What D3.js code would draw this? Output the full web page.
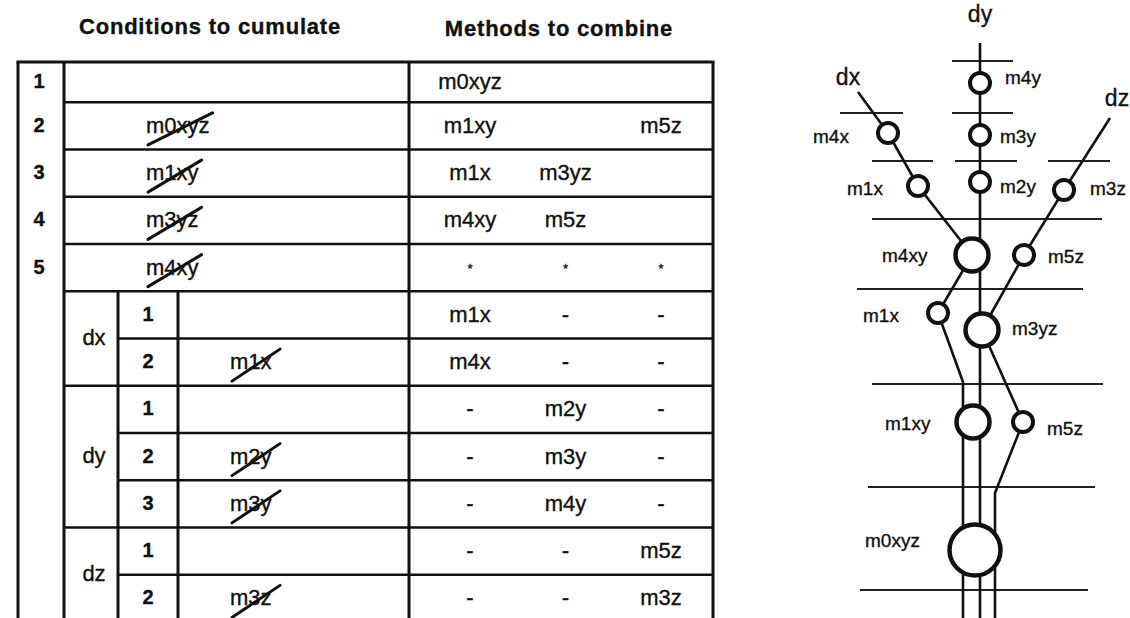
<!DOCTYPE html>
<html><head><meta charset="utf-8">
<script src="https://cdn.jsdelivr.net/npm/d3@7"></script>
<style>
html,body{margin:0;padding:0;background:#fff;}
svg{display:block;}
text{font-family:"Liberation Sans", Arial, Helvetica, sans-serif; fill:#111; stroke:#111; stroke-width:0.35px;}
</style>
</head><body>
<svg id="c" width="1130" height="618"></svg>
<script>
// ---------- table data ----------
const headers = ["Conditions to cumulate", "Methods to combine"];
const mainSteps = ["1", "2", "3", "4", "5"];
const mainCumulated = ["", "m0xyz", "m1xy", "m3yz", "m4xy"];
const mainMethods = [
  ["m0xyz", "", ""],
  ["m1xy", "", "m5z"],
  ["m1x", "m3yz", ""],
  ["m4xy", "m5z", ""],
  ["*", "*", "*"]
];
const groups = ["dx", "dy", "dz"];
const groupSteps = [["1", "2"], ["1", "2", "3"], ["1", "2"]];
const groupCumulated = [["", "m1x"], ["", "m2y", "m3y"], ["", "m3z"]];
const groupMethods = [
  [["m1x", "-", "-"], ["m4x", "-", "-"]],
  [["-", "m2y", "-"], ["-", "m3y", "-"], ["-", "m4y", "-"]],
  [["-", "-", "m5z"], ["-", "-", "m3z"]]
];

// ---------- diagram data ----------
const axisNames = ["dx", "dy", "dz"];
const nodeNames = ["m4y", "m3y", "m2y", "m4x", "m1x", "m3z", "m4xy", "m5z", "m1x", "m3yz", "m1xy", "m5z", "m0xyz"];
const nodeSize = [1, 1, 1, 1, 1, 1, 2, 1, 1, 2, 2, 1, 3];   // 1 = single, 2 = pair, 3 = triple

// ---------- layout (positions, not data) ----------
const svg = d3.select("#c");
const W = 1130, H = 618;
const FONT = 22;

const colX = {left: 18, step: 64, grp: 118, sub: 178, meth: 409, right: 713};
const allRows = [];
mainSteps.forEach((s, i) => allRows.push({kind: "main", i}));
groups.forEach((g, gi) => groupSteps[gi].forEach((s, si) => allRows.push({kind: "sub", gi, si})));
const y = d3.scaleBand().domain(d3.range(allRows.length)).range([55, 622]);
const TOP = 62;
const rowTop = i => i === 0 ? TOP : y(i);
const rowMid = i => (rowTop(i) + y(i) + y.bandwidth()) / 2;
const mx = d3.scalePoint().domain([0, 1, 2]).range([470, 661]);

// headers
svg.append("text").attr("x", 210).attr("y", 34).attr("text-anchor", "middle")
  .attr("font-size", 22).attr("font-weight", "bold").attr("letter-spacing", 0.8).text(headers[0]);
svg.append("text").attr("x", 559).attr("y", 36).attr("text-anchor", "middle")
  .attr("font-size", 22).attr("font-weight", "bold").attr("letter-spacing", 0.8).text(headers[1]);

const g = svg.append("g");
const line = (x1, y1, x2, y2, w) => g.append("line").attr("x1", x1).attr("y1", y1).attr("x2", x2).attr("y2", y2)
  .attr("stroke", "#111").attr("stroke-width", w);

// horizontal row lines
const groupStarts = [];
let acc = mainSteps.length;
groupSteps.forEach(s => { groupStarts.push(acc); acc += s.length; });
for (let i = 1; i < allRows.length; i++) {
  const isMajor = i <= mainSteps.length || groupStarts.includes(i);
  line(isMajor ? colX.step : colX.grp, y(i), colX.right, y(i), 2.6);
}
// top border
line(colX.left - 1.5, TOP, colX.right + 1.5, TOP, 3);
// verticals
[colX.left, colX.step, colX.meth, colX.right].forEach(x => line(x, TOP, x, H + 5, 3));
[colX.grp, colX.sub].forEach(x => line(x, y(mainSteps.length), x, H + 5, 3));

// strike-through text helper
function crossed(x, base, txt) {
  const t = g.append("text").attr("x", x).attr("y", base).attr("font-size", FONT).text(txt);
  const w = t.node().getComputedTextLength();
  line(x + 2, base + 12, x + Math.max(50, w + 3), base - 20, 3).attr("stroke-linecap", "round");
}

// rows
allRows.forEach((r, i) => {
  const base = rowMid(i) + 7;
  if (r.kind === "main") {
    g.append("text").attr("x", 39).attr("y", base - 1).attr("text-anchor", "middle")
      .attr("font-size", 20).attr("font-weight", "bold").text(mainSteps[r.i]);
    if (mainCumulated[r.i]) crossed(146, base, mainCumulated[r.i]);
    mainMethods[r.i].forEach((m, k) => {
      if (!m) return;
      if (m === "*") {
        g.append("text").attr("x", mx(k)).attr("y", base - 2).attr("text-anchor", "middle")
          .attr("font-size", 13).text(m);
      } else {
        g.append("text").attr("x", mx(k)).attr("y", base).attr("text-anchor", "middle")
          .attr("font-size", FONT).text(m);
      }
    });
  } else {
    g.append("text").attr("x", 148).attr("y", base - 1).attr("text-anchor", "middle")
      .attr("font-size", 20).attr("font-weight", "bold").text(groupSteps[r.gi][r.si]);
    const c = groupCumulated[r.gi][r.si];
    if (c) crossed(230, base, c);
    groupMethods[r.gi][r.si].forEach((m, k) => {
      g.append("text").attr("x", mx(k)).attr("y", base).attr("text-anchor", "middle")
        .attr("font-size", FONT).text(m);
    });
  }
});
// group labels
groups.forEach((name, gi) => {
  const s = groupStarts[gi], n = groupSteps[gi].length;
  const top = y(s), bot = y(s + n - 1) + y.bandwidth();
  g.append("text").attr("x", 94).attr("y", (top + bot) / 2 + 6).attr("text-anchor", "middle")
    .attr("font-size", FONT).text(name);
});

// ---------- right diagram ----------
const d = svg.append("g");
const dline = (pts, w) => d.append("path").attr("d", d3.line()(pts)).attr("fill", "none")
  .attr("stroke", "#111").attr("stroke-width", w).attr("stroke-linejoin", "round");

// node placement (px)
const nodePos = [
  [980, 83], [980, 135], [980, 182], [888, 133], [918, 186], [1064, 190],
  [972, 255], [1024, 255], [938, 313], [982, 330], [973, 422], [1023, 422], [975, 550]
];
const rScale = d3.scaleOrdinal().domain([1, 2, 3]).range([10, 16.5, 25.5]);
const labelPos = [
  [1005, 84], [1000, 143], [1000, 193], [813, 143], [847, 195], [1090, 195],
  [882, 262], [1048, 263], [863, 322], [1012, 335], [885, 430], [1047, 435], [865, 547]
];

// separator lines
const seps = [
  [61, [[952, 1013]]],
  [113, [[840, 903], [952, 1013]]],
  [161, [[872, 933], [955, 1017], [1048, 1110]]],
  [219, [[872, 1102]]],
  [289, [[857, 1083]]],
  [384, [[872, 1103]]],
  [487, [[868, 1095]]],
  [590, [[860, 1088]]]
];
seps.forEach(([yy, segs]) => segs.forEach(([a, b]) => dline([[a, yy], [b, yy]], 2.2).attr("stroke", "#222")));

// edges
const P = nodePos;
dline([[980, 43], [980, H + 5]], 2.6);                              // dy
dline([[858, 92], P[3], P[4], P[6]], 2.6);                          // dx
dline([[1110, 118], P[5], P[7]], 2.6);                              // dz
dline([P[6], P[8], [963, 382], [963, H + 5]], 2.6);                 // m4xy -> m1x -> m1xy -> m0xyz
dline([P[7], P[9]], 2.6);                                           // m5z -> m3yz
dline([P[9], P[11], [995, 493], [995, H + 5]], 2.6);                // m3yz -> m5z -> m0xyz

// nodes
nodeNames.forEach((n, i) => {
  d.append("circle").attr("cx", P[i][0]).attr("cy", P[i][1]).attr("r", rScale(nodeSize[i]))
    .attr("fill", "#fff").attr("stroke", "#111").attr("stroke-width", nodeSize[i] === 1 ? 4 : 4.5);
  d.append("text").attr("x", labelPos[i][0]).attr("y", labelPos[i][1]).attr("font-size", 19).text(n);
});

// axis names
const axisPos = [[848, 85], [980, 22], [1117, 106]];
axisNames.forEach((a, i) => d.append("text").attr("x", axisPos[i][0]).attr("y", axisPos[i][1])
  .attr("text-anchor", "middle").attr("font-size", 23).text(a));
</script>
</body></html>
